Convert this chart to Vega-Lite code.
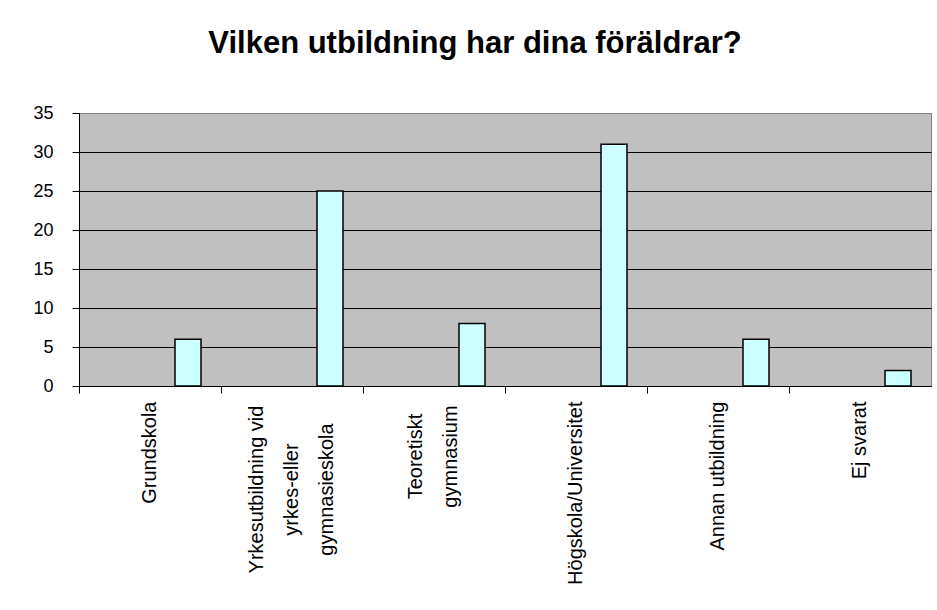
{
  "$schema": "https://vega.github.io/schema/vega-lite/v6.json",
  "width": 852,
  "height": 273,
  "autosize": {"type": "none"},
  "padding": {"left": 79, "top": 113, "right": 6, "bottom": 224},
  "background": "white",
  "title": {
    "text": "Vilken utbildning har dina föräldrar?",
    "font": "Liberation Sans",
    "fontSize": 31,
    "fontWeight": "bold",
    "color": "black",
    "anchor": "middle",
    "offset": 44,
    "dx": -30
  },
  "data": {
    "values": [
      {"utbildning": "Grundskola", "antal": 6},
      {"utbildning": "Yrkesutbildning vid|yrkes-eller|gymnasieskola", "antal": 25},
      {"utbildning": "Teoretiskt|gymnasium", "antal": 8},
      {"utbildning": "Högskola/Universitet", "antal": 31},
      {"utbildning": "Annan utbildning", "antal": 6},
      {"utbildning": "Ej svarat", "antal": 2}
    ]
  },
  "mark": {
    "type": "bar",
    "width": 26,
    "xOffset": 38,
    "fill": "#CCFFFF",
    "stroke": "black",
    "strokeWidth": 1.5
  },
  "encoding": {
    "x": {
      "field": "utbildning",
      "type": "nominal",
      "sort": null,
      "scale": {"paddingInner": 0, "paddingOuter": 0},
      "axis": {
        "title": null,
        "labelAngle": -90,
        "bandPosition": 0,
        "tickSize": 7,
        "tickColor": "black",
        "domainColor": "black",
        "labelFont": "Liberation Sans",
        "labelFontSize": 20,
        "labelColor": "black",
        "labelLimit": 0,
        "labelLineHeight": 35,
        "labelExpr": "split(datum.label, '|')",
        "labelAlign": {"condition": {"test": "indexof(datum.value, '|') >= 0", "value": "center"}, "value": "right"},
        "labelOffset": {"condition": [
          {"test": "indexof(datum.value, 'Yrkes') >= 0", "value": -35},
          {"test": "indexof(datum.value, 'Teoretiskt') >= 0", "value": -18}
        ], "value": 0},
        "labelPadding": {"condition": [
          {"test": "indexof(datum.value, 'Yrkes') >= 0", "value": 96},
          {"test": "indexof(datum.value, 'Teoretiskt') >= 0", "value": 63}
        ], "value": 8}
      }
    },
    "y": {
      "field": "antal",
      "type": "quantitative",
      "scale": {"domain": [0, 35], "nice": false},
      "axis": {
        "title": null,
        "values": [0, 5, 10, 15, 20, 25, 30, 35],
        "tickSize": 7,
        "tickColor": "black",
        "domainColor": "black",
        "labelPadding": 19,
        "labelFont": "Liberation Sans",
        "labelFontSize": 18,
        "labelColor": "black",
        "grid": true,
        "gridColor": {"condition": {"test": "datum.value == 35", "value": "#808080"}, "value": "black"},
        "gridOpacity": 1,
        "gridWidth": 1
      }
    }
  },
  "config": {
    "view": {"fill": "#C0C0C0", "stroke": "#808080", "strokeWidth": 1}
  }
}
